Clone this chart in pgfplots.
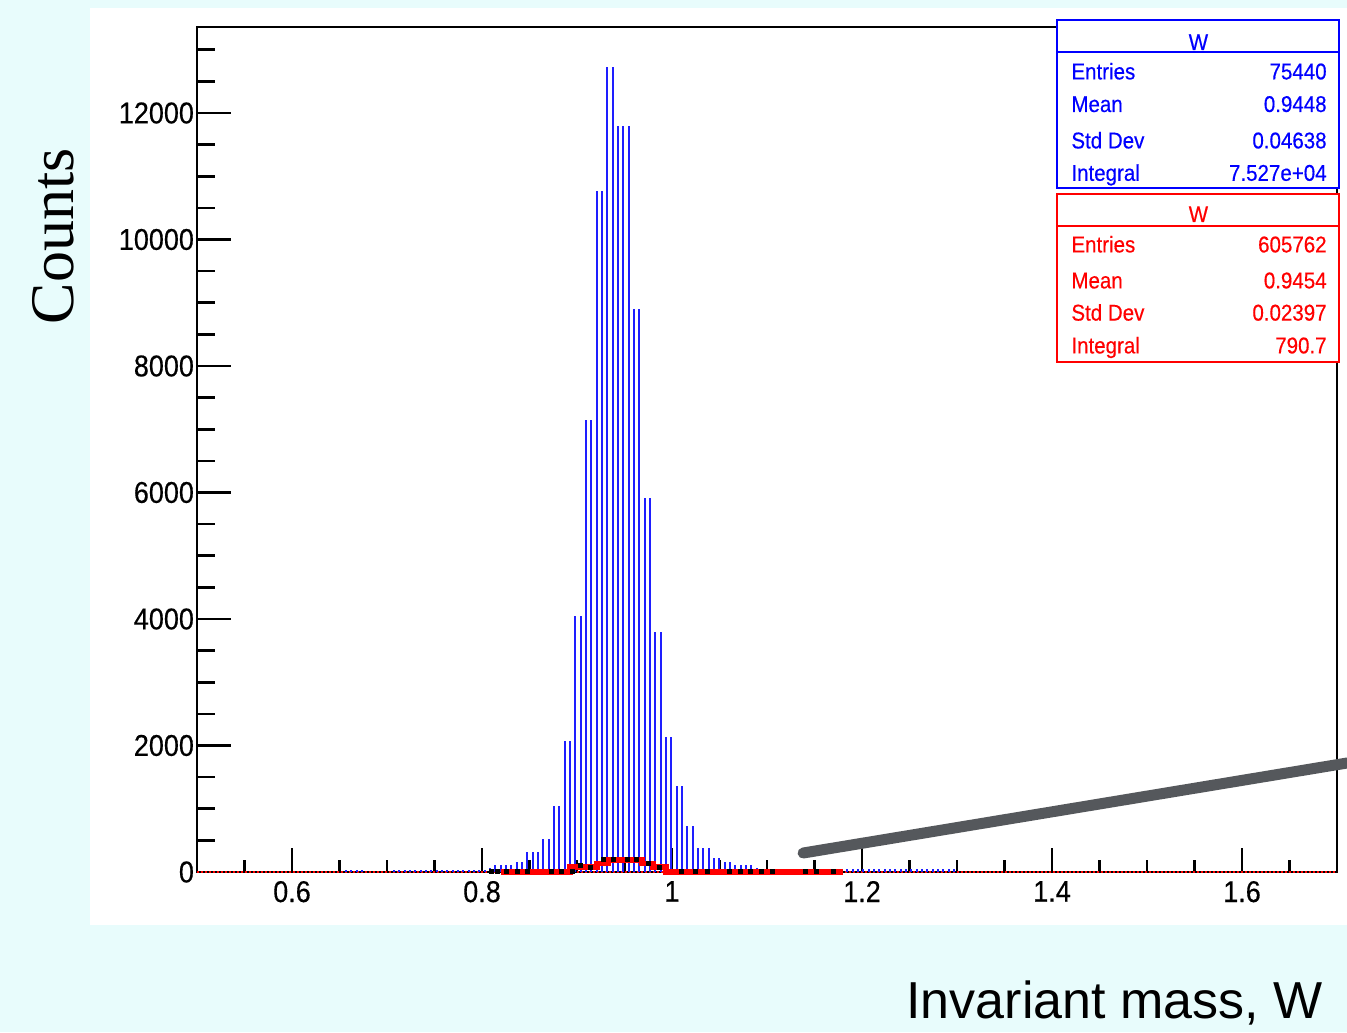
\documentclass[border=0pt]{standalone}
\usepackage{pgfplots}
\pgfplotsset{compat=1.18}
\usepackage{fontspec}
\setmainfont{Liberation Sans}
\newfontfamily\rootfont[FakeStretch=0.9,FakeBold=0.4]{Liberation Sans}
\newfontfamily\seriffont{Liberation Serif}
\definecolor{bgc}{RGB}{232,252,252}
\definecolor{hblue}{RGB}{30,30,255}
\definecolor{strokegray}{RGB}{85,88,92}
\begin{document}
\begin{tikzpicture}
\useasboundingbox (0,0) rectangle (673.5pt,516pt);
\fill[bgc] (0,0) rectangle (673.5pt,516pt);
\fill[white] (45pt,53.5pt) rectangle (673.5pt,512pt);
\begin{axis}[
  at={(98.5pt,80pt)}, anchor=south west,
  scale only axis, width=570pt, height=422.5pt,
  xmin=0.5, xmax=1.7, ymin=0, ymax=13360,
  xtick={0.6,0.8,1,1.2,1.4,1.6},
  xticklabels={0.6,0.8,1,1.2,1.4,1.6},
  minor xtick={0.55,0.65,0.7,0.75,0.85,0.9,0.95,1.05,1.1,1.15,1.25,1.3,1.35,1.45,1.5,1.55,1.65},
  ytick={0,2000,4000,6000,8000,10000,12000},
  yticklabels={0,2000,4000,6000,8000,10000,12000},
  minor ytick={500,1000,1500,2500,3000,3500,4500,5000,5500,6500,7000,7500,8500,9000,9500,10500,11000,11500,12500,13000},
  xtick pos=bottom, ytick pos=left,
  tick align=inside,
  major tick length=12pt, minor tick length=6pt,
  every major y tick/.append style={/pgfplots/major tick length=17pt},
  every minor y tick/.append style={/pgfplots/minor tick length=9pt},
  axis line style={line width=1.3pt},
  every tick/.style={black, line width=1.3pt},
  tick label style={font=\rootfont\fontsize{15pt}{15pt}\selectfont, black},
  yticklabel style={xshift=2pt},
  xticklabel style={yshift=-1pt},
  scaled y ticks=false,
  clip=false,
]
\addplot[red, line width=1pt, dash pattern=on 1.2pt off 0.8pt, mark=none] coordinates {(0.5,-3) (1.7,-3)};
\addplot[ycomb, hblue, line width=0.85pt, mark=none] coordinates {
(0.65684,30) (0.66246,30) (0.66807,30) (0.67368,30)
(0.70737,35) (0.71298,35) (0.71860,35) (0.72421,35) (0.72982,35) (0.73544,35)
(0.74105,35) (0.74667,35) (0.75228,35) (0.75789,35) (0.76351,35) (0.76912,35)
(0.77474,35) (0.78035,35) (0.78596,35) (0.79158,35) (0.79719,35) (0.80281,35)
(0.80842,63) (0.81403,110) (0.81965,110) (0.82526,110) (0.83088,110)
(0.83649,158) (0.84210,158) (0.84772,316) (0.85333,316) (0.85895,316)
(0.86456,522) (0.87017,522) (0.87579,1043) (0.88140,1043) (0.88702,2071) (0.89263,2071)
(0.89824,4047) (0.90386,4047) (0.90947,7146) (0.91509,7146) (0.92070,10770) (0.92631,10770)
(0.93193,12727) (0.93754,12727) (0.94316,11795) (0.94877,11795) (0.95438,11795)
(0.96000,8900) (0.96561,8900) (0.97123,5913) (0.97684,5913) (0.98245,3794) (0.98807,3794)
(0.99368,2134) (0.99930,2134) (1.00491,1360) (1.01052,1360) (1.01614,727) (1.02175,727)
(1.02737,379) (1.03298,379) (1.03859,379) (1.04421,221) (1.04982,221) (1.05544,158) (1.06105,158)
(1.06666,110) (1.07228,110) (1.07789,110) (1.08351,110) (1.08912,63)
(1.09473,50) (1.10035,50) (1.10596,50) (1.11158,50) (1.11719,50) (1.12280,50) (1.12842,50)
(1.13403,50) (1.13965,50) (1.14526,50) (1.15087,45) (1.15649,45) (1.16210,45) (1.16772,45)
(1.17333,45) (1.17894,45) (1.18456,45) (1.19017,45) (1.19579,45) (1.20140,45) (1.20701,45)
(1.21263,45) (1.21824,45) (1.22386,45) (1.22947,45) (1.23508,45) (1.24070,45) (1.24631,45)
(1.25193,45) (1.25754,45) (1.26315,45) (1.26877,45) (1.27438,45) (1.28000,45) (1.28561,45)
(1.29123,45) (1.29684,45)
};
\addplot[const plot, red, line width=2.6pt, mark=none] coordinates {
(0.82,0) (0.8926,80) (0.921,140) (0.9326,190) (0.9684,140) (0.98,80) (0.9937,0) (1.18,0)};
\addplot[only marks, mark=square*, mark size=1pt, black] coordinates {
(0.810,15) (0.816,15) (0.826,15) (0.837,15) (0.848,15) (0.873,15) (0.884,15) (0.895,15)
(0.904,100) (0.914,80) (0.928,200) (0.938,200) (0.953,200) (0.963,200) (0.975,140) (0.987,80)
(1.010,15) (1.025,15) (1.037,15) (1.060,15) (1.072,15) (1.082,15) (1.094,15) (1.106,15)
(1.140,15) (1.152,15) (1.170,15)};
\draw[strokegray, line width=5.5pt, line cap=round] (axis cs:1.138,300) -- (axis cs:1.7105,1723);
\end{axis}
% stats boxes
\begin{scope}[every node/.style={inner sep=0pt, font=\rootfont\fontsize{11.4pt}{13pt}\selectfont}]
\draw[blue, line width=1pt, fill=white] (528.7pt,422.2pt) rectangle (669.7pt,506pt);
\draw[blue, line width=1pt] (528.7pt,489.8pt) -- (669.7pt,489.8pt);
\node[blue, anchor=base] at (599.2pt,491pt) {W};
\node[blue, anchor=base west] at (535.5pt,476.3pt) {Entries};
\node[blue, anchor=base east] at (663.5pt,476.3pt) {75440};
\node[blue, anchor=base west] at (535.5pt,460pt) {Mean};
\node[blue, anchor=base east] at (663.5pt,460pt) {0.9448};
\node[blue, anchor=base west] at (535.5pt,441.8pt) {Std Dev};
\node[blue, anchor=base east] at (663.5pt,441.8pt) {0.04638};
\node[blue, anchor=base west] at (535.5pt,425.6pt) {Integral};
\node[blue, anchor=base east] at (663.5pt,425.6pt) {7.527e+04};
\draw[red, line width=1pt, fill=white] (528.7pt,335.2pt) rectangle (669.7pt,418.8pt);
\draw[red, line width=1pt] (528.7pt,403.2pt) -- (669.7pt,403.2pt);
\node[red, anchor=base] at (599.2pt,405pt) {W};
\node[red, anchor=base west] at (535.5pt,389.8pt) {Entries};
\node[red, anchor=base east] at (663.5pt,389.8pt) {605762};
\node[red, anchor=base west] at (535.5pt,371.8pt) {Mean};
\node[red, anchor=base east] at (663.5pt,371.8pt) {0.9454};
\node[red, anchor=base west] at (535.5pt,355.7pt) {Std Dev};
\node[red, anchor=base east] at (663.5pt,355.7pt) {0.02397};
\node[red, anchor=base west] at (535.5pt,339.3pt) {Integral};
\node[red, anchor=base east] at (663.5pt,339.3pt) {790.7};
\end{scope}
\node[rotate=90, anchor=base, inner sep=0pt, font=\seriffont\fontsize{31pt}{31pt}\selectfont] at (36.5pt,397.75pt) {Counts};
\node[anchor=base west, inner sep=0pt, font=\fontsize{26pt}{26pt}\selectfont] at (453pt,6.85pt) {Invariant mass, W};
\end{tikzpicture}
\end{document}
